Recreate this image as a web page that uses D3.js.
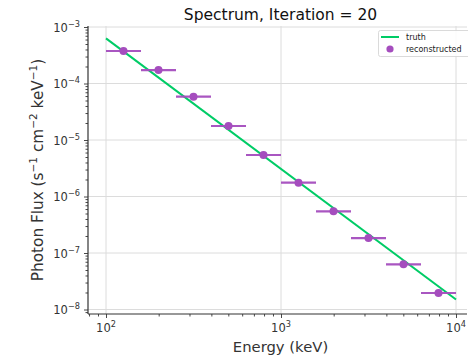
<!DOCTYPE html>
<html><head><meta charset="utf-8">
<script src="https://cdn.jsdelivr.net/npm/d3@7"></script>
<style>body{margin:0;background:#fff}svg{display:block}text{font-family:"DejaVu Sans",sans-serif}</style>
</head><body><div id="c"></div>
<script>
const title = "Spectrum, Iteration = 20";
const xLabel = "Energy (keV)";
const binLow  = [100, 158.5, 251.2, 398.1, 631.0, 1000, 1585, 2512, 3981, 6310];
const binHigh = [158.5, 251.2, 398.1, 631.0, 1000, 1585, 2512, 3981, 6310, 10000];
const recEnergy = [125.9, 199.5, 316.2, 501.2, 794.3, 1259, 1995, 3162, 5012, 7943];
const recFlux = [3.76e-4, 1.73e-4, 5.84e-5, 1.77e-5, 5.43e-6, 1.76e-6, 5.47e-7, 1.84e-7, 6.3e-8, 1.96e-8];
const truthEnergy = [100, 10000];
const truthFlux = [6.3e-4, 1.5e-8];
const xTicks = [1e2, 1e3, 1e4];
const xTickExp = ["2", "3", "4"];
const yTicks = [1e-3, 1e-4, 1e-5, 1e-6, 1e-7, 1e-8];
const yTickExp = ["−3", "−4", "−5", "−6", "−7", "−8"];
const legendLabels = ["truth", "reconstructed"];

const W = 468, H = 358;
const L = 88, R = 467, T = 26, B = 314;
const green = "#00cc66", purple = "#a54dbe", ink = "#333";

const svg = d3.select("#c").append("svg").attr("width", W).attr("height", H);
const x = d3.scaleLog().domain([Math.pow(10, 2 - 18/175), Math.pow(10, 4 + 11/175)]).range([L, R]);
const y = d3.scaleLog().domain([Math.pow(10, -8 - 4.5/56.5), Math.pow(10, -3 + 1/56.5)]).range([B, T]);

// grid
svg.append("g").selectAll("line").data(xTicks).join("line")
  .attr("x1", d => x(d)).attr("x2", d => x(d)).attr("y1", T).attr("y2", B)
  .attr("stroke", "#dcdcdc").attr("stroke-width", 1);
svg.append("g").selectAll("line").data(yTicks).join("line")
  .attr("y1", d => y(d)).attr("y2", d => y(d)).attr("x1", L).attr("x2", R)
  .attr("stroke", "#dcdcdc").attr("stroke-width", 1);

// axes
function minorTicks(scale) {
  const [a, b] = scale.domain();
  const out = [];
  for (let e = Math.floor(Math.log10(a)); e <= Math.ceil(Math.log10(b)); e++)
    for (let m = 2; m <= 9; m++) { const v = m * Math.pow(10, e); if (v >= a && v <= b) out.push(v); }
  return out;
}
const xAxis = svg.append("g").attr("transform", `translate(0,${B})`)
  .call(d3.axisBottom(x).tickValues(xTicks).tickSize(4).tickFormat(""));
const xMinor = svg.append("g").attr("transform", `translate(0,${B})`)
  .call(d3.axisBottom(x).tickValues(minorTicks(x)).tickSize(2.5).tickFormat(""));
const yAxis = svg.append("g").attr("transform", `translate(${L},0)`)
  .call(d3.axisLeft(y).tickValues(yTicks).tickSize(4).tickFormat(""));
const yMinor = svg.append("g").attr("transform", `translate(${L},0)`)
  .call(d3.axisLeft(y).tickValues(minorTicks(y)).tickSize(2.5).tickFormat(""));
[xAxis, xMinor, yAxis, yMinor].forEach(g => {
  g.selectAll("path").attr("stroke", "#333").attr("stroke-width", 1.2);
  g.selectAll("line").attr("stroke", "#333").attr("stroke-width", 0.9);
});
xAxis.select("path").attr("d", `M${L},0H${R}`);
xMinor.select("path").remove();
yAxis.select("path").attr("d", `M0,${B}V${T}`);
yMinor.select("path").remove();

// tick labels
xTicks.forEach((v, i) => {
  const t = svg.append("text").attr("x", x(v)).attr("y", B + 18).attr("text-anchor", "middle")
    .attr("fill", ink).attr("font-size", 11.5);
  t.append("tspan").text("10");
  t.append("tspan").attr("dy", -5).attr("font-size", 8.2).text(xTickExp[i]);
});
yTicks.forEach((v, i) => {
  const t = svg.append("text").attr("x", L - 8).attr("y", y(v) + 4.5).attr("text-anchor", "end")
    .attr("fill", ink).attr("font-size", 11.5);
  t.append("tspan").text("10");
  t.append("tspan").attr("dy", -5).attr("font-size", 8.2).text(yTickExp[i]);
});

// truth line
svg.append("path").datum(truthEnergy.map((e, i) => [e, truthFlux[i]]))
  .attr("d", d3.line().x(d => x(d[0])).y(d => y(d[1])))
  .attr("fill", "none").attr("stroke", green).attr("stroke-width", 2);

// reconstructed
const g = svg.append("g");
g.selectAll("line").data(recEnergy).join("line")
  .attr("x1", (d, i) => x(binLow[i])).attr("x2", (d, i) => x(binHigh[i]))
  .attr("y1", (d, i) => y(recFlux[i])).attr("y2", (d, i) => y(recFlux[i]))
  .attr("stroke", purple).attr("stroke-width", 2.2).attr("opacity", 0.95);
g.selectAll("circle").data(recEnergy).join("circle")
  .attr("cx", d => x(d)).attr("cy", (d, i) => y(recFlux[i])).attr("r", 4)
  .attr("fill", purple);

// title & labels
svg.append("text").attr("x", (L + R) / 2 + 3).attr("y", 19.5).attr("text-anchor", "middle")
  .attr("font-size", 15.5).attr("fill", "#111").text(title);
svg.append("text").attr("x", (L + R) / 2 + 3).attr("y", 352).attr("text-anchor", "middle")
  .attr("font-size", 14.8).attr("fill", ink).text(xLabel);
const yl = svg.append("text").attr("transform", `translate(43,${(T + B) / 2}) rotate(-90)`)
  .attr("text-anchor", "middle").attr("font-size", 15.3).attr("fill", ink);
yl.append("tspan").text("Photon Flux (s");
yl.append("tspan").attr("dy", -6).attr("font-size", 10.5).text("−1");
yl.append("tspan").attr("dy", 6).text(" cm");
yl.append("tspan").attr("dy", -6).attr("font-size", 10.5).text("−2");
yl.append("tspan").attr("dy", 6).text(" keV");
yl.append("tspan").attr("dy", -6).attr("font-size", 10.5).text("−1");
yl.append("tspan").attr("dy", 6).text(")");

// legend
const lg = svg.append("g");
lg.append("rect").attr("x", 378.5).attr("y", 30.5).attr("width", 95).attr("height", 26).attr("rx", 2)
  .attr("fill", "#fff").attr("fill-opacity", 0.85).attr("stroke", "#d0d0d0").attr("stroke-width", 0.8);
lg.append("line").attr("x1", 381).attr("x2", 399).attr("y1", 37).attr("y2", 37)
  .attr("stroke", green).attr("stroke-width", 2);
lg.append("circle").attr("cx", 390).attr("cy", 49).attr("r", 3.6).attr("fill", purple);
legendLabels.forEach((s, i) => {
  lg.append("text").attr("x", 406).attr("y", 40 + i * 12.3).attr("font-size", 8)
    .attr("fill", "#222").text(s);
});
</script></body></html>
